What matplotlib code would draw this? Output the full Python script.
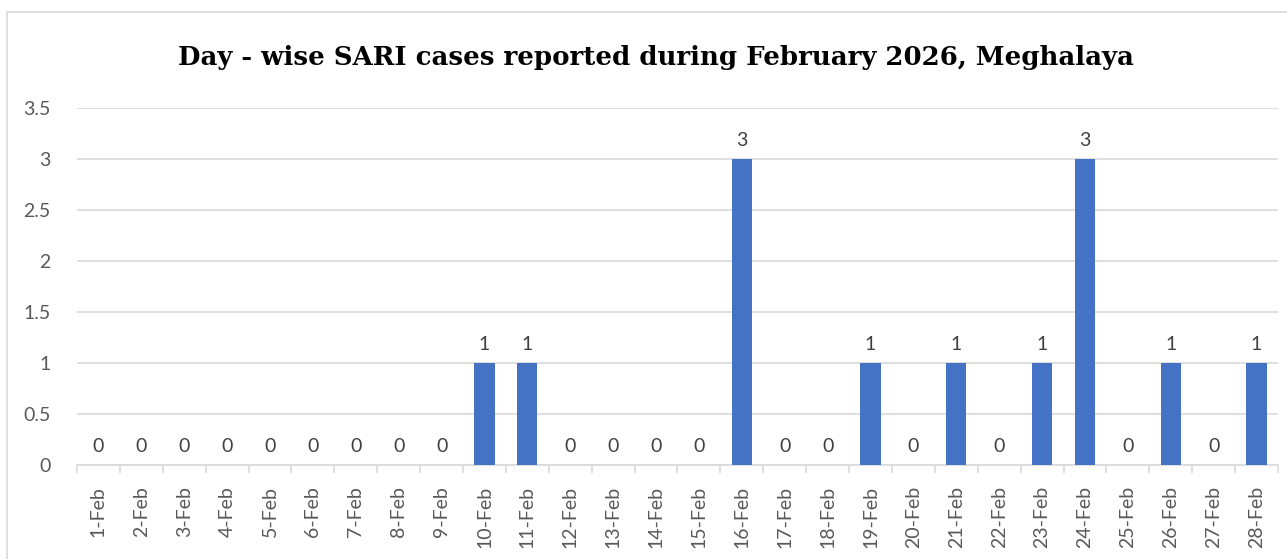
import matplotlib.pyplot as plt
from matplotlib.patches import Rectangle

# data
days = [f"{d}-Feb" for d in range(1, 29)]
cases = [0, 0, 0, 0, 0, 0, 0, 0, 0, 1, 1, 0, 0, 0, 0, 3, 0, 0, 1, 0, 1, 0, 1, 3, 0, 1, 0, 1]
yticks = [0, 0.5, 1, 1.5, 2, 2.5, 3, 3.5]
ytick_labels = ["0", "0.5", "1", "1.5", "2", "2.5", "3", "3.5"]

fig = plt.figure(figsize=(12.87, 5.59), dpi=100)
ax = fig.add_axes([77 / 1287, 1 - 465 / 559, 1201 / 1287, 357 / 559])

# outer chart frame (bottom and right run off the image)
fig.patches.append(Rectangle((7 / 1287, -0.1), 1.1, 1.1 - 12 / 559,
                             transform=fig.transFigure, fill=False,
                             edgecolor='#d9d9d9', linewidth=1.2))

x = range(len(days))
ax.bar(x, cases, width=0.47, color='#4472c4', zorder=3)

for i, v in enumerate(cases):
    ax.text(i, v + 0.1, str(v), ha='center', va='bottom', fontsize=14,
            color='#404040', family='Lato')

ax.set_xlim(-0.5, len(days) - 0.5)
ax.set_ylim(0, 3.5)
ax.set_yticks(yticks)
ax.set_yticklabels(ytick_labels, fontsize=14, color='#595959', family='Lato')
ax.set_xticks(list(x))
ax.set_xticklabels(days, rotation=90, fontsize=14, color='#595959', family='Lato')
ax.tick_params(axis='y', length=0, pad=19)
ax.tick_params(axis='x', length=0, pad=15)

# category boundary ticks
ax.set_xticks([i - 0.5 for i in range(len(days) + 1)], minor=True)
ax.tick_params(axis='x', which='minor', length=6, color='#d9d9d9', width=1.2)

ax.grid(axis='y', color='#d9d9d9', linewidth=1.2, zorder=0)
for s in ['top', 'right', 'left']:
    ax.spines[s].set_visible(False)
ax.spines['bottom'].set_color('#d9d9d9')
ax.spines['bottom'].set_linewidth(1.2)

fig.text(656 / 1287, 1 - 57 / 559,
         "Day - wise SARI cases reported during February 2026, Meghalaya",
         ha='center', va='center', fontsize=18.7, fontweight='bold',
         family='DejaVu Serif', color='black')

fig.savefig('out.png', dpi=100)
